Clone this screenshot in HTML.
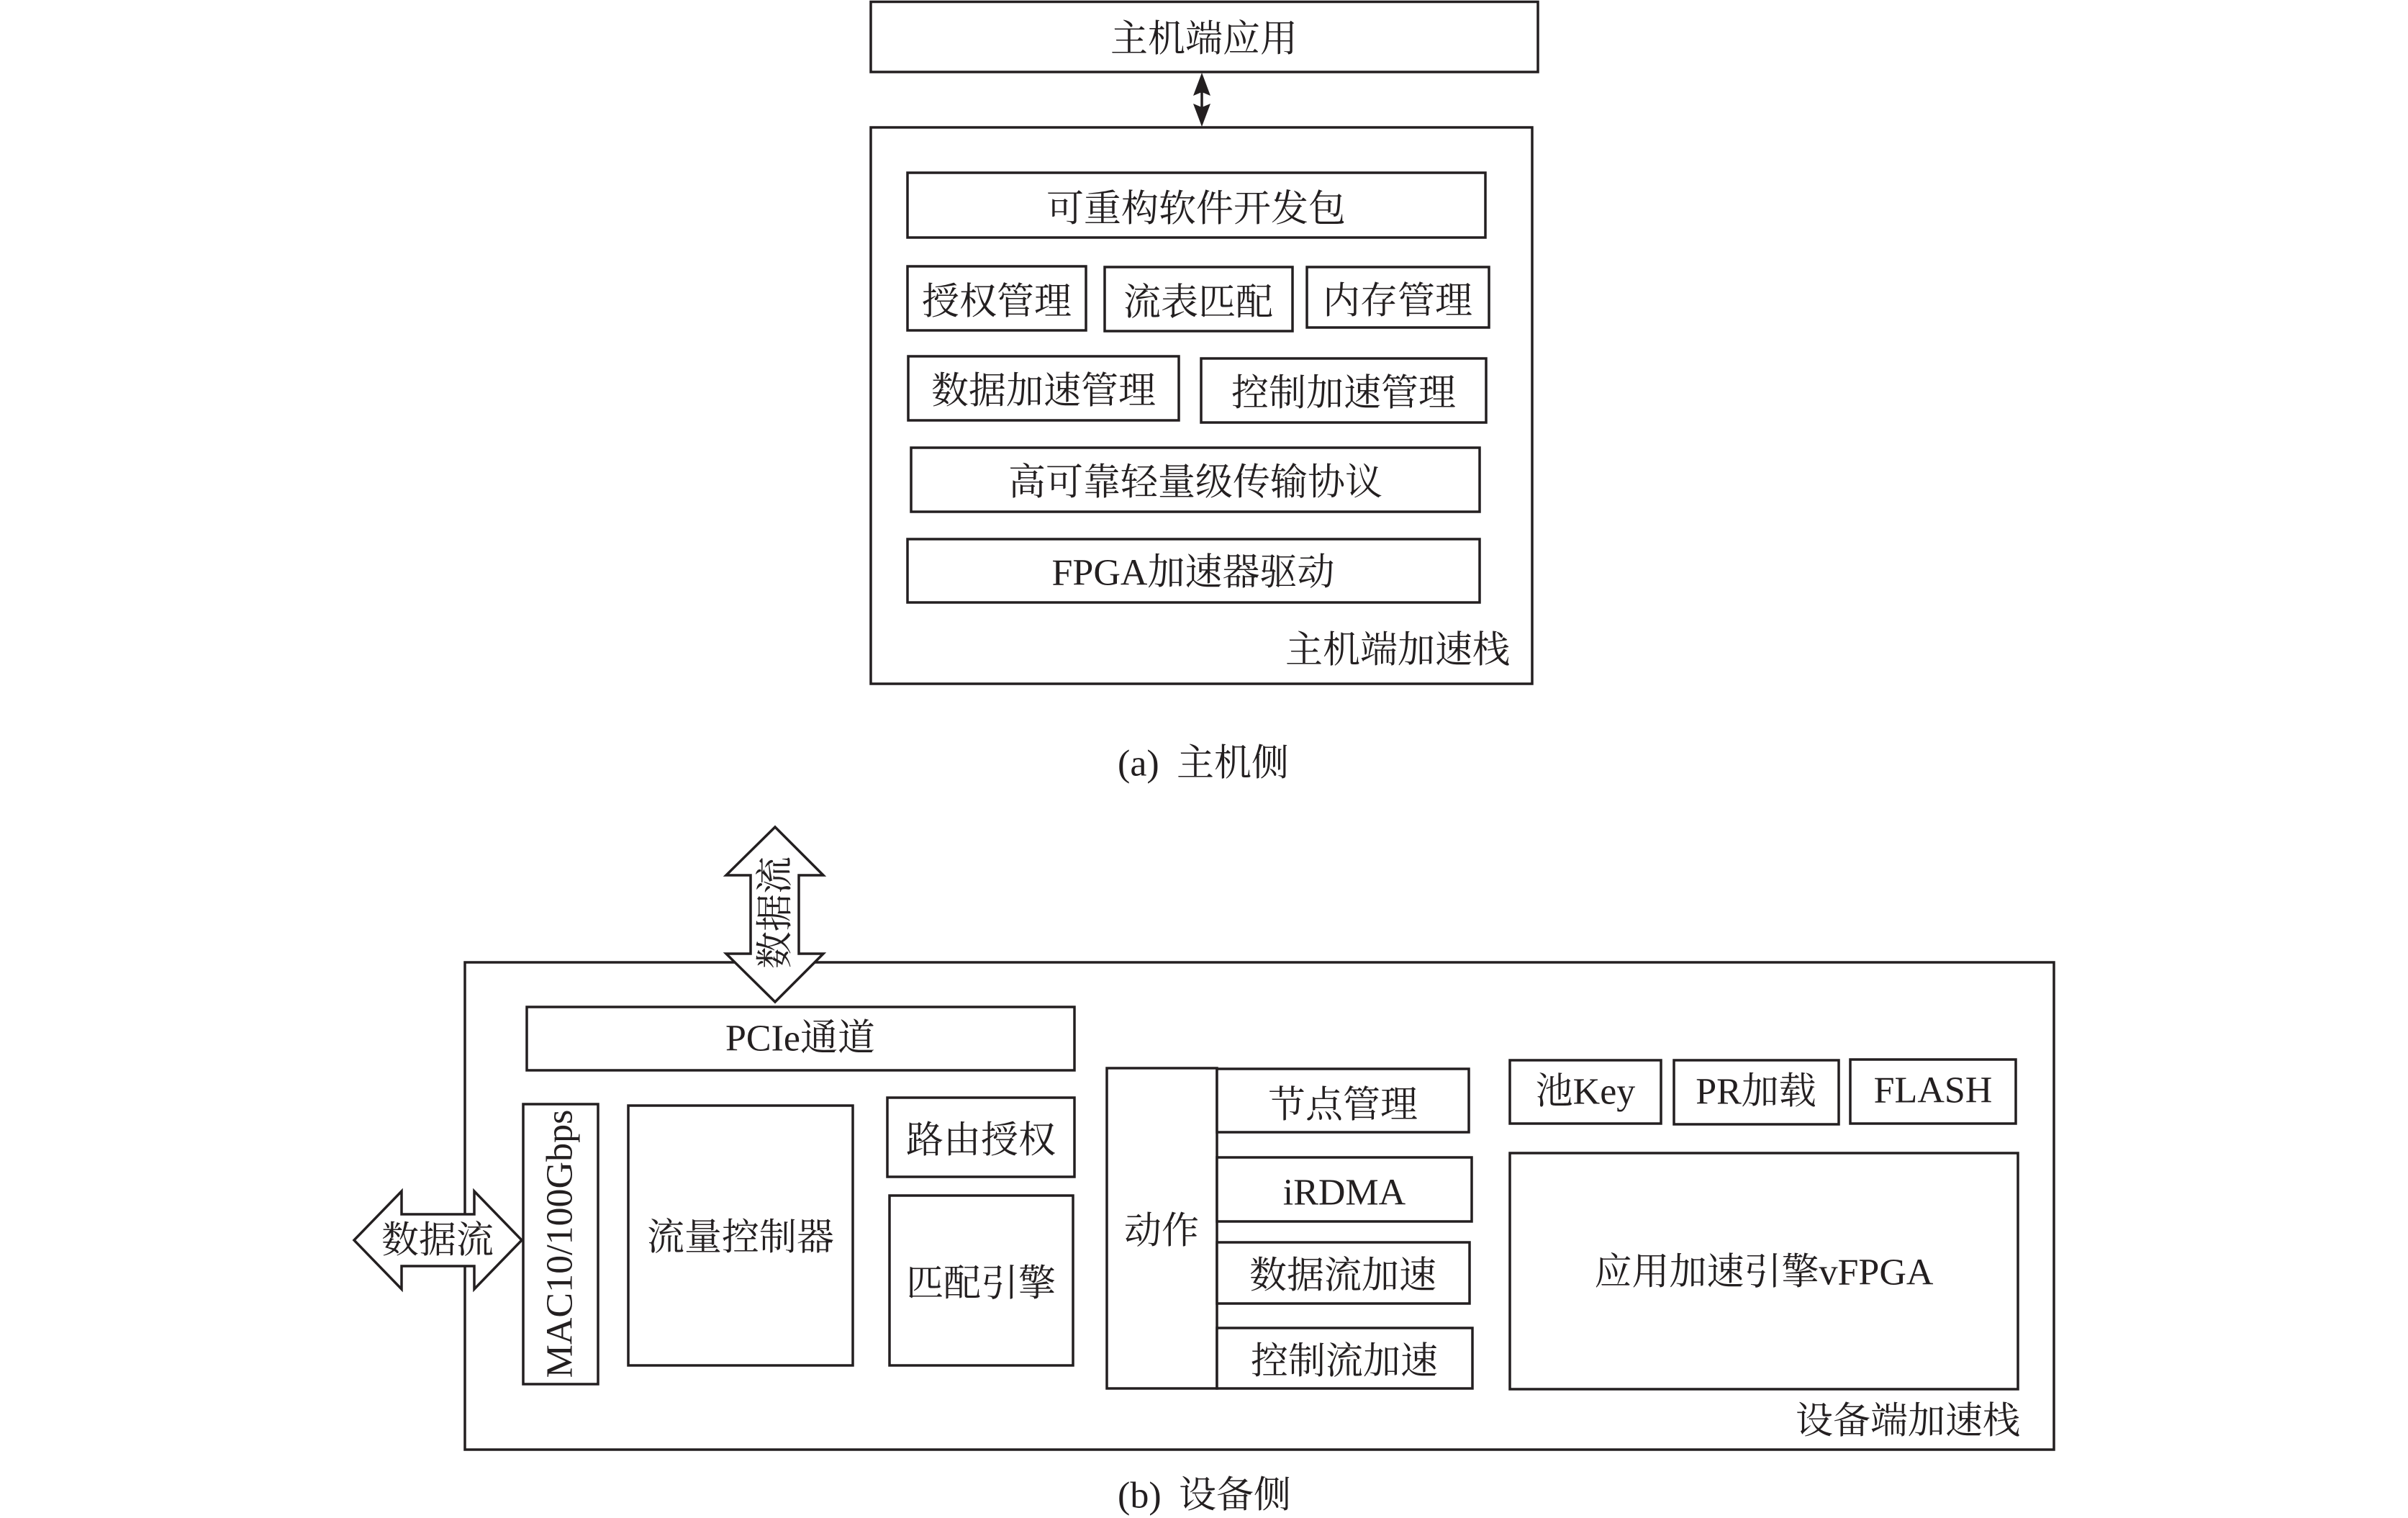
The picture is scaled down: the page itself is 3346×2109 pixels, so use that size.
<!DOCTYPE html>
<html>
<head>
<meta charset="utf-8">
<style>
html,body{margin:0;padding:0;background:#fff;}
svg{display:block;}
text{font-family:"Liberation Serif","Noto Serif CJK SC",serif;font-size:52px;fill:#231f20;}
</style>
</head>
<body>
<svg width="3346" height="2109" viewBox="0 0 3346 2109" xmlns="http://www.w3.org/2000/svg">
<g fill="#fff" stroke="#231f20" stroke-width="3.5">
  <!-- Part (a) -->
  <rect x="1210" y="2.5" width="927" height="97.5"/>
  <rect x="1210" y="177" width="919" height="773"/>
  <rect x="1261" y="240" width="803" height="90"/>
  <rect x="1261" y="370" width="248" height="89"/>
  <rect x="1535" y="371" width="261" height="89"/>
  <rect x="1816" y="371" width="253" height="84"/>
  <rect x="1262" y="495" width="376" height="89"/>
  <rect x="1669" y="498" width="396" height="89"/>
  <rect x="1266" y="622" width="790" height="89"/>
  <rect x="1261" y="749" width="795" height="88"/>

  <!-- Part (b) -->
  <rect x="646" y="1337" width="2208" height="677"/>
  <rect x="732" y="1399" width="761" height="88"/>
  <rect x="727" y="1534" width="104" height="389"/>
  <rect x="873" y="1536" width="312" height="361"/>
  <rect x="1233" y="1525" width="260" height="110"/>
  <rect x="1236" y="1661" width="255" height="236"/>
  <rect x="1538" y="1484" width="153" height="445"/>
  <rect x="1691" y="1485" width="350" height="88"/>
  <rect x="1691" y="1608" width="354" height="89"/>
  <rect x="1691" y="1726" width="351" height="85"/>
  <rect x="1691" y="1845" width="355" height="84"/>
  <rect x="2098" y="1473" width="210" height="88"/>
  <rect x="2326" y="1473" width="229" height="89"/>
  <rect x="2571" y="1472" width="230" height="89"/>
  <rect x="2098" y="1602" width="706" height="328"/>

  <!-- block arrows -->
  <polygon points="1077,1149 1144,1216 1110,1216 1110,1325 1144,1325 1077,1392 1009,1325 1043,1325 1043,1216 1009,1216"/>
  <polygon points="492,1723 558,1655 558,1687 659,1687 659,1655 725,1723 659,1791 659,1759 558,1759 558,1791"/>
</g>

<!-- small double arrow in (a) -->
<line x1="1670" y1="110" x2="1670" y2="168" stroke="#231f20" stroke-width="3.5"/>
<path d="M1670,101 L1682,133 L1670,128 L1658,133 Z" fill="#231f20"/>
<path d="M1670,176 L1682,144 L1670,149 L1658,144 Z" fill="#231f20"/>

<g text-anchor="middle" dominant-baseline="central">
  <text x="1673" y="55">主机端应用</text>
  <text x="1662" y="291">可重构软件开发包</text>
  <text x="1385" y="420">授权管理</text>
  <text x="1665" y="421">流表匹配</text>
  <text x="1942" y="419">内存管理</text>
  <text x="1450" y="544">数据加速管理</text>
  <text x="1867" y="547">控制加速管理</text>
  <text x="1661" y="671">高可靠轻量级传输协议</text>
  <text x="1658" y="796">FPGA加速器驱动</text>

  <text x="1112" y="1443">PCIe通道</text>
  <text transform="translate(778,1728) rotate(-90)">MAC10/100Gbps</text>
  <text x="1029" y="1720">流量控制器</text>
  <text x="1363" y="1585">路由授权</text>
  <text x="1363" y="1784">匹配引擎</text>
  <text x="1614" y="1711">动作</text>
  <text x="1866" y="1536">节点管理</text>
  <text x="1868" y="1657">iRDMA</text>
  <text x="1866" y="1773">数据流加速</text>
  <text x="1868" y="1892">控制流加速</text>
  <text x="2203" y="1517">池Key</text>
  <text x="2440" y="1517">PR加载</text>
  <text x="2686" y="1515">FLASH</text>
  <text x="2451" y="1768">应用加速引擎vFPGA</text>
  <text transform="translate(1078,1268) rotate(-90)">数据流</text>
  <text x="608" y="1724">数据流</text>
</g>

<g dominant-baseline="central">
  <text x="2098" y="904" text-anchor="end">主机端加速栈</text>
  <text x="2807" y="1975" text-anchor="end">设备端加速栈</text>
  <text x="1553" y="1061">(a)</text>
  <text x="1635" y="1061">主机侧</text>
  <text x="1553" y="2078">(b)</text>
  <text x="1638" y="2078">设备侧</text>
</g>
</svg>
</body>
</html>
